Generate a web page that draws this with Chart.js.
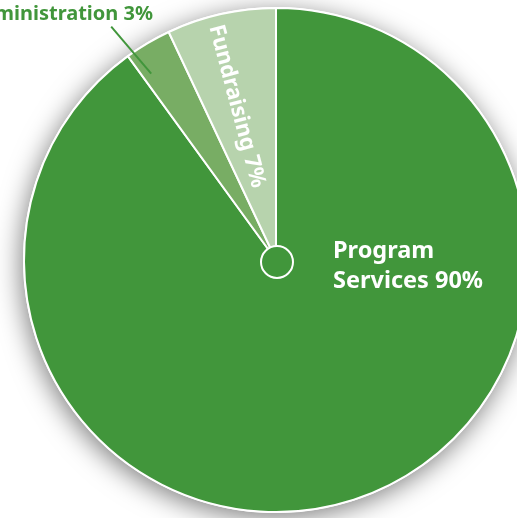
<!DOCTYPE html>
<html>
<head>
<meta charset="utf-8">
<script src="https://cdn.jsdelivr.net/npm/chart.js@4.4.0/dist/chart.umd.min.js"></script>
<style>
  html, body { margin: 0; padding: 0; background: #fff; overflow: hidden; }
  #wrap { width: 560px; height: 518px; position: relative; }
</style>
</head>
<body>
<div id="wrap"><canvas id="pie"></canvas></div>
<script>
// expense split
const categories = ['Program Services', 'Administration', 'Fundraising'];
const shares = [90, 3, 7];
const sliceColors = ['#41963b', '#78ad64', '#b7d3ad'];

const labelFont = '"Noto Sans", "Open Sans", sans-serif';

// soft shadow behind the whole pie
const pieShadow = {
  id: 'pieShadow',
  beforeDatasetsDraw(chart) {
    const arc = chart.getDatasetMeta(0).data[0];
    if (!arc) return;
    const ctx = chart.ctx;
    ctx.save();
    ctx.shadowColor = 'rgba(0,0,0,0.5)';
    ctx.shadowBlur = 26;
    ctx.shadowOffsetX = -2;
    ctx.shadowOffsetY = 5;
    ctx.fillStyle = '#fff';
    ctx.beginPath();
    ctx.arc(arc.x, arc.y, arc.outerRadius + 1, 0, Math.PI * 2);
    ctx.fill();
    ctx.restore();
  }
};

// center hub + slice labels
const pieLabels = {
  id: 'pieLabels',
  afterDatasetsDraw(chart) {
    const arcs = chart.getDatasetMeta(0).data;
    const ctx = chart.ctx;
    const cx = arcs[0].x, cy = arcs[0].y, R = arcs[0].outerRadius;

    ctx.save();
    // hub
    ctx.beginPath();
    ctx.arc(cx + 1, cy + 2, 16, 0, Math.PI * 2);
    ctx.fillStyle = sliceColors[0];
    ctx.fill();
    ctx.lineWidth = 2;
    ctx.strokeStyle = '#fff';
    ctx.stroke();

    // Program Services
    ctx.fillStyle = '#fff';
    ctx.font = 'bold 23.5px ' + labelFont;
    ctx.textAlign = 'left';
    ctx.textBaseline = 'alphabetic';
    ctx.fillText('Program', cx + 57, cy - 2);
    ctx.fillText('Services ' + shares[0] + '%', cx + 57, cy + 28);

    // Fundraising, rotated along the slice
    const f = arcs[2];
    const fm = (f.startAngle + f.endAngle) / 2;
    const fa = fm - 0.03;
    ctx.save();
    ctx.translate(cx + Math.cos(fa) * R * 0.63, cy + Math.sin(fa) * R * 0.63);
    ctx.rotate(fm + Math.PI - 0.04);
    ctx.font = 'bold 22px ' + labelFont;
    ctx.textAlign = 'center';
    ctx.textBaseline = 'middle';
    ctx.fillText(categories[2] + ' ' + shares[2] + '%', 0, 0);
    ctx.restore();

    // Administration with leader line
    const a = arcs[1];
    const am = (a.startAngle + a.endAngle) / 2 - 0.056;
    const sx = cx + Math.cos(am) * R * 0.89, sy = cy + Math.sin(am) * R * 0.89;
    ctx.beginPath();
    ctx.moveTo(sx, sy);
    ctx.lineTo(sx - 40, sy - 47);
    ctx.strokeStyle = sliceColors[0];
    ctx.lineWidth = 2;
    ctx.stroke();
    ctx.fillStyle = sliceColors[0];
    ctx.font = 'bold 20px ' + labelFont;
    ctx.textAlign = 'right';
    ctx.textBaseline = 'alphabetic';
    ctx.fillText(categories[1] + ' ' + shares[1] + '%', 153, 20);
    ctx.restore();
  }
};

new Chart(document.getElementById('pie'), {
  type: 'pie',
  data: {
    labels: categories,
    datasets: [{
      data: shares,
      backgroundColor: sliceColors,
      borderColor: '#fff',
      borderWidth: 2
    }]
  },
  options: {
    responsive: true,
    maintainAspectRatio: false,
    animation: false,
    layout: { padding: { left: 23, top: 7, right: 31, bottom: 5 } },
    plugins: {
      legend: { display: false },
      tooltip: { enabled: false }
    }
  },
  plugins: [pieShadow, pieLabels]
});
</script>
</body>
</html>
